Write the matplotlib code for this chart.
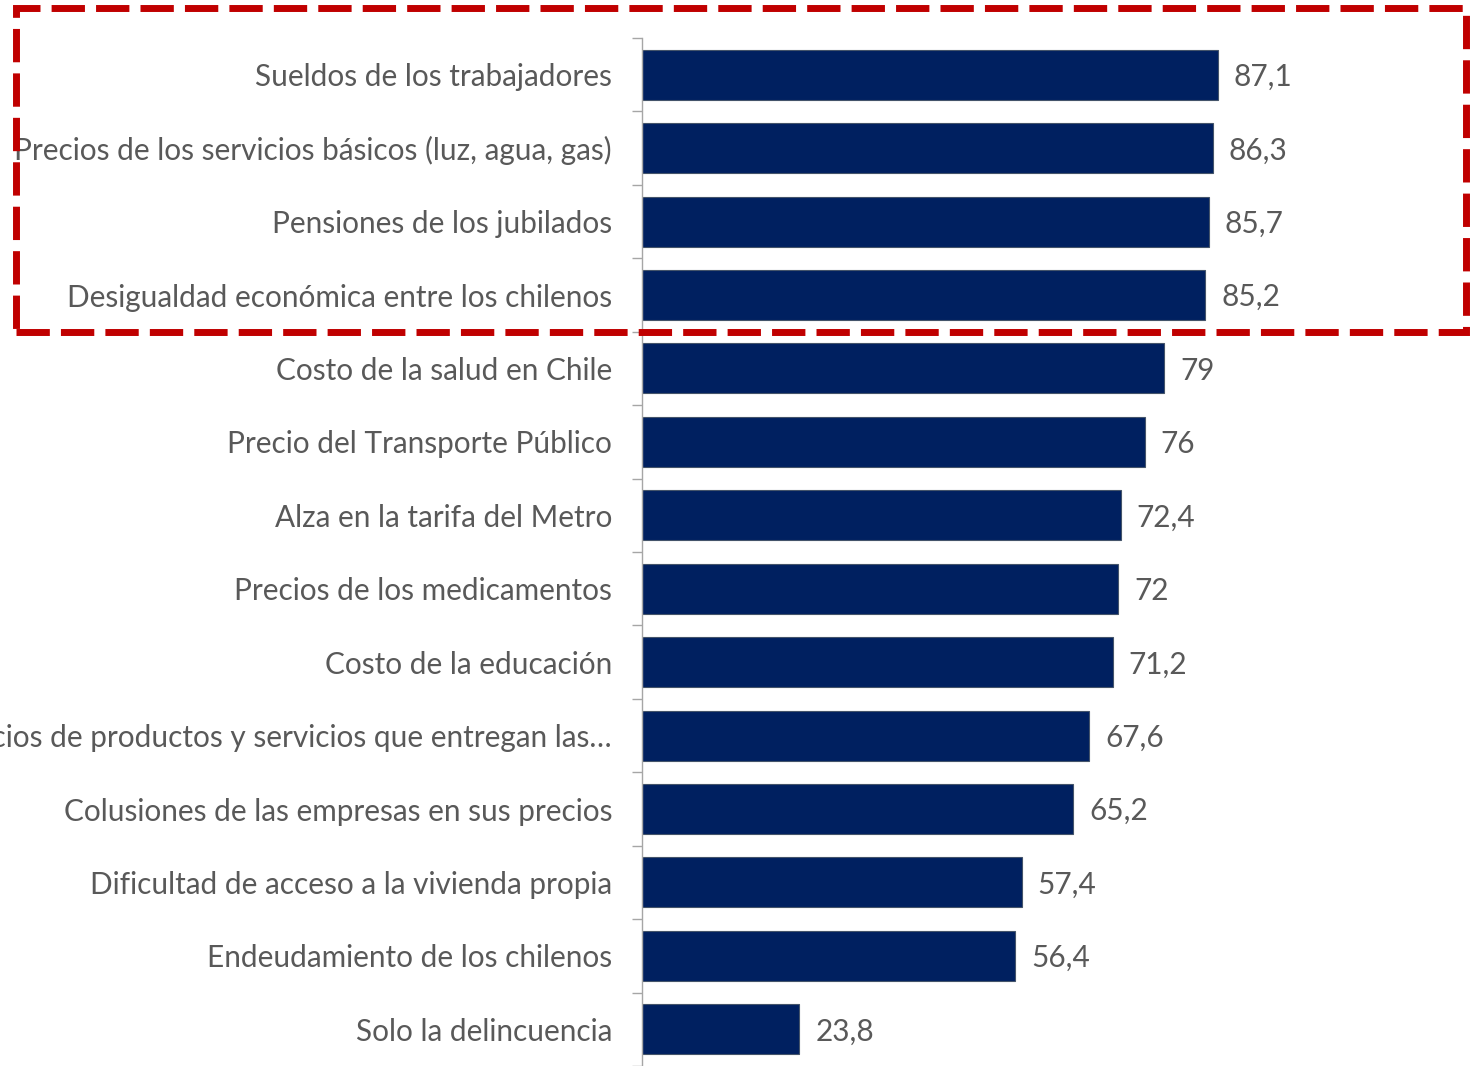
import matplotlib.pyplot as plt
from matplotlib.patches import Rectangle

# categories (top to bottom) and their values
categorias = [
    'Sueldos de los trabajadores',
    'Precios de los servicios básicos (luz, agua, gas)',
    'Pensiones de los jubilados',
    'Desigualdad económica entre los chilenos',
    'Costo de la salud en Chile',
    'Precio del Transporte Público',
    'Alza en la tarifa del Metro',
    'Precios de los medicamentos',
    'Costo de la educación',
    'Precios de productos y servicios que entregan las…',
    'Colusiones de las empresas en sus precios',
    'Dificultad de acceso a la vivienda propia',
    'Endeudamiento de los chilenos',
    'Solo la delincuencia',
]
valores = [87.1, 86.3, 85.7, 85.2, 79, 76, 72.4, 72, 71.2, 67.6, 65.2, 57.4, 56.4, 23.8]
etiquetas = ['87,1', '86,3', '85,7', '85,2', '79', '76', '72,4', '72', '71,2', '67,6',
             '65,2', '57,4', '56,4', '23,8']

plt.rcParams['font.family'] = ['Lato', 'DejaVu Sans']
gris = '#595959'

W, H = 1473, 1066
fig = plt.figure(figsize=(W / 100, H / 100), dpi=100)
ax = fig.add_axes([642 / W, 0, (W - 642) / W, 1028 / H])

pos = list(range(len(categorias)))
ax.barh(pos, valores, height=0.68, color='#002060', edgecolor='#44546A', linewidth=0.8)
for p, v, t in zip(pos, valores, etiquetas):
    ax.text(v + 2.4, p + 0.03, t, va='center', ha='left', fontsize=21.4, color=gris)

ax.set_xlim(0, (W - 642) / 6.613)
ax.set_ylim(len(categorias) - 0.5, -0.5)
ax.set_xticks([])
ax.set_yticks(pos)
ax.set_yticklabels(categorias, fontsize=21.4, color=gris)
# tick marks sit on the category boundaries
ax.set_yticks([p - 0.5 for p in pos] + [len(pos) - 0.5], minor=True)
ax.tick_params(axis='y', which='major', length=0, pad=21.6)
ax.tick_params(axis='y', which='minor', length=7.2, width=1, color='#A6A6A6')
for s in ['top', 'right', 'bottom']:
    ax.spines[s].set_visible(False)
ax.spines['left'].set_color('#A6A6A6')
ax.spines['left'].set_linewidth(1)

# dashed highlight box around the top four
fig.patches.append(Rectangle((16 / W, 1 - 332 / H), 1450 / W, 324 / H,
                             transform=fig.transFigure, fill=False,
                             edgecolor='#C00000', linewidth=5,
                             linestyle=(0, (4.8, 1.6)), zorder=5))

fig.savefig('out.png', dpi=100)
